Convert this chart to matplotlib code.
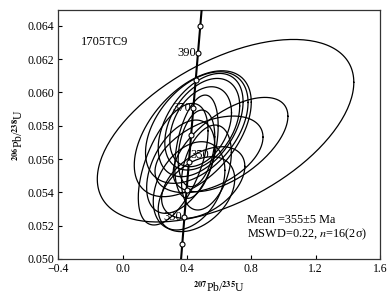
import numpy as np
import matplotlib
matplotlib.use('Agg')
import matplotlib.pyplot as plt

plt.rcParams['font.family'] = ['Liberation Serif', 'DejaVu Serif']
plt.rcParams['mathtext.fontset'] = 'stix'

# concordia ages (Ma) with markers, and the labelled ones
ages = [320, 330, 340, 350, 360, 370, 380, 390, 400]
labelled = [330, 350, 370, 390]
lam238 = 1.55125e-10
lam235 = 9.8485e-10

# error ellipses: centre x, centre y, half width x, half width y, correlation
ell_cx = [0.640, 0.436, 0.461, 0.485, 0.495, 0.485, 0.671, 0.537,
          0.459, 0.459, 0.413, 0.459, 0.501, 0.361, 0.521, 0.314]
ell_cy = [0.05770, 0.05752, 0.05789, 0.05804, 0.05809, 0.05794, 0.05687, 0.05628,
          0.05674, 0.05664, 0.05439, 0.05389, 0.05459, 0.05554, 0.05549, 0.05569]
ell_hx = [0.798, 0.364, 0.319, 0.264, 0.233, 0.192, 0.357, 0.336,
          0.135, 0.114, 0.223, 0.238, 0.259, 0.212, 0.155, 0.217]
ell_hy = [0.00548, 0.00378, 0.00335, 0.00310, 0.00275, 0.00240, 0.00283, 0.00230,
          0.00310, 0.00230, 0.00265, 0.00225, 0.00215, 0.00280, 0.00255, 0.00365]
ell_rho = [0.53, 0.5, 0.45, 0.45, 0.4, 0.35, 0.6, 0.45,
           0.4, 0.3, 0.35, 0.4, 0.45, 0.45, 0.35, 0.55]

fig = plt.figure(figsize=(3.92, 2.98), dpi=100)
ax = fig.add_axes([0.149, 0.131, 0.820, 0.835])

t = np.linspace(0, 2 * np.pi, 200)
for cx, cy, hx, hy, r in zip(ell_cx, ell_cy, ell_hx, ell_hy, ell_rho):
    xs = cx + hx * np.cos(t)
    ys = cy + hy * (r * np.cos(t) + np.sqrt(1 - r * r) * np.sin(t))
    ax.plot(xs, ys, color='black', lw=0.9)

# concordia curve
tt = np.linspace(300e6, 420e6, 200)
ax.plot(np.exp(lam235 * tt) - 1, np.exp(lam238 * tt) - 1, color='black', lw=1.5, zorder=3)
a = np.array(ages) * 1e6
mx = np.exp(lam235 * a) - 1
my = np.exp(lam238 * a) - 1
ax.plot(mx, my, 'o', ms=3.6, mfc='white', mec='black', mew=0.8, zorder=4)
for age, x, y in zip(ages, mx, my):
    if age in labelled:
        if age == 350:
            ax.text(x + 0.01, y + 0.00045, str(age), fontsize=9, ha='left', va='center')
        else:
            ax.text(x - 0.012, y, str(age), fontsize=9, ha='right', va='center')

ax.set_xlim(-0.4, 1.6)
ax.set_ylim(0.050, 0.06494)
ax.set_xticks([-0.4, 0.0, 0.4, 0.8, 1.2, 1.6])
ax.set_xticklabels(['\u22120.4', '0.0', '0.4', '0.8', '1.2', '1.6'])
ax.set_yticks(np.arange(0.050, 0.0641, 0.002))
ax.yaxis.set_major_formatter(plt.FormatStrFormatter('%.3f'))
ax.tick_params(direction='in', length=3, width=0.8, labelsize=8.5, pad=3)
for s in ax.spines.values():
    s.set_color('#333333')
    s.set_linewidth(0.9)

ax.text(-0.26, 0.0630, '1705TC9', fontsize=9, va='center')
ax.text(0.775, 0.05232, 'Mean =355\u00b15 Ma', fontsize=8.8, va='center')
ax.text(0.775, 0.05150, r'MSWD=0.22, $n$=16(2σ)', fontsize=8.8, va='center')

ax.set_xlabel(r'$^{\mathbf{207}}$Pb/$^{\mathbf{235}}$U', fontsize=8.5, labelpad=4)
ax.set_ylabel(r'$^{\mathbf{206}}$Pb/$^{\mathbf{238}}$U', fontsize=8.5, labelpad=2)

fig.savefig('out.png', dpi=100)
